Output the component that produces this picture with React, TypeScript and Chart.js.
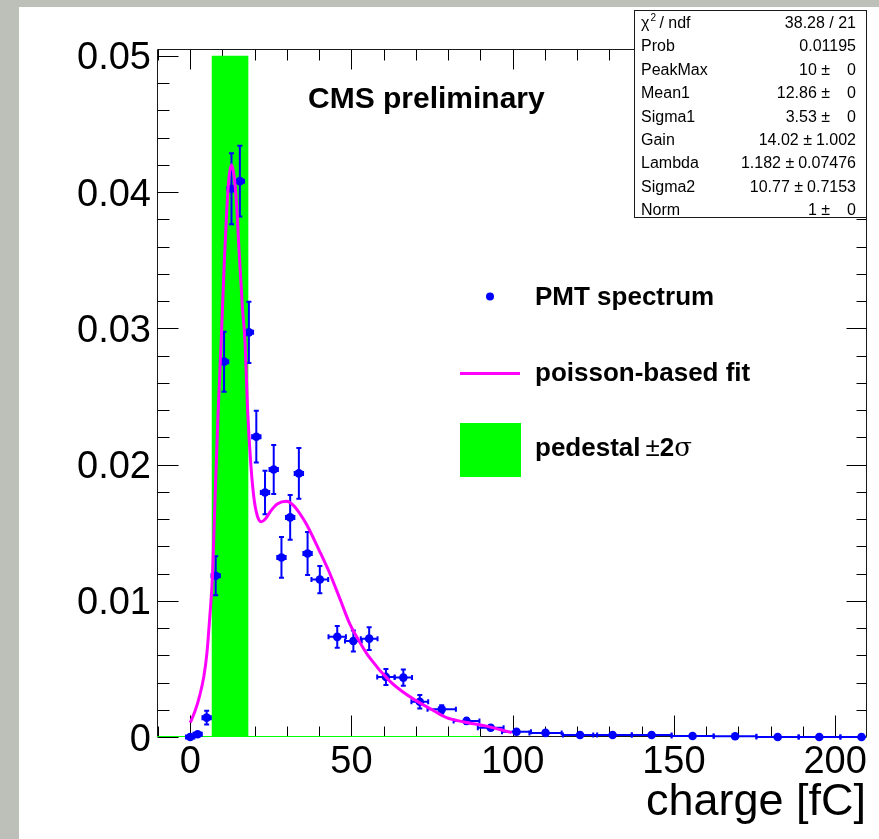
import React, { useEffect, useRef } from "react";
import { Chart, registerables } from "chart.js";

Chart.register(...registerables);

// ---------- data ----------
const chargeX = [0, 2.3, 5.1, 7.9, 10.5, 12.8, 15.4, 18.2, 20.5, 23.2, 25.9, 28.3, 31.0, 33.7, 36.4, 40.2, 45.6, 50.6, 55.5, 60.7, 66.1, 71.2, 78.0, 85.7, 93.2, 101.2, 110.2, 120.9, 131.0, 143.1, 155.8, 169.0, 182.2, 195.1, 208.2];
const spectrumY = [0, 0.0002, 0.00142, 0.01183, 0.02755, 0.04024, 0.0408, 0.0297, 0.02204, 0.01795, 0.01964, 0.01318, 0.01612, 0.01935, 0.01347, 0.01156, 0.00735, 0.00705, 0.00722, 0.00441, 0.00436, 0.00259, 0.00203, 0.00118, 0.00068, 0.00039, 0.0003, 0.00015, 0.00015, 0.00015, 0.00007, 0.00005, 0, 0, 0];
const spectrumYErr = [0, 0.0001, 0.0005, 0.00143, 0.0022, 0.0026, 0.0026, 0.00224, 0.0019, 0.0016, 0.0018, 0.0015, 0.00165, 0.00187, 0.00157, 0.001, 0.0008, 0.00077, 0.00083, 0.00059, 0.00059, 0.00049, 0.0003, 0.00022, 0.00017, 0.00012, 0.0001, 0.00007, 0.00007, 0.00007, 0.00005, 0.00004, 0, 0, 0];
const chargeXErr = [1.3, 1.3, 1.3, 1.3, 1.3, 1.3, 1.3, 1.3, 1.3, 1.3, 1.3, 1.3, 1.3, 1.3, 1.3, 2.6, 2.7, 2.6, 2.6, 2.7, 2.7, 2.6, 4.4, 4.0, 4.0, 4.5, 5.0, 5.3, 6.0, 6.2, 6.5, 6.6, 6.6, 6.5, 6.5];

const fitX = [0, 1.5, 3, 4.2, 5.2, 6.0, 6.9, 7.7, 8.6, 9.7, 10.6, 11.3, 12.0, 12.8, 13.6, 14.4, 15.2, 16.2, 17.0, 17.8, 18.8, 19.9, 21.0, 22.1, 23.3, 25.0, 27.0, 29.9, 32.0, 34.0, 36.1, 40.0, 43.3, 46.5, 49.5, 52.5, 55.7, 61.9, 66.0, 70.2, 75.0, 79.5, 85.0, 91.9, 96.0, 99.7];
const fitY = [0.00105, 0.0019, 0.0031, 0.0044, 0.0062, 0.0086, 0.0118, 0.0175, 0.0235, 0.0296, 0.035, 0.0385, 0.041, 0.042, 0.0412, 0.039, 0.0355, 0.0315, 0.029, 0.024, 0.02, 0.0173, 0.0161, 0.0158, 0.016, 0.0166, 0.0171, 0.0173, 0.017, 0.0164, 0.0156, 0.0137, 0.012, 0.0101, 0.0083, 0.007, 0.0058, 0.0041, 0.0033, 0.00265, 0.002, 0.00142, 0.0011, 0.0008, 0.00055, 0.00032];

const pedestalBand = [6.6, 18.1];
const pedestalTop = 0.05;
const pedestalLineRange = [-10.3, 90];

const xMajorTicks = [0, 50, 100, 150, 200];
const xTickLabels = ["0", "50", "100", "150", "200"];
const yMajorTicks = [0, 0.01, 0.02, 0.03, 0.04, 0.05];
const yTickLabels = ["0", "0.01", "0.02", "0.03", "0.04", "0.05"];

const statsLabels = ["χ2 / ndf", "Prob", "PeakMax", "Mean1", "Sigma1", "Gain", "Lambda", "Sigma2", "Norm"];
const statsValues = ["38.28 / 21", "0.01195", "10", "12.86", "3.53", "14.02", "1.182", "10.77", "1"];
const statsErrors = ["", "", "0", "0", "0", "1.002", "0.07476", "0.7153", "0"];

const legendLabels = ["PMT spectrum", "poisson-based fit", "pedestal"];

const X_MIN = -10.3;
const X_MAX = 209.9;
const Y_MIN = 0;
const Y_MAX = 0.0505;

const FONT = "'Liberation Sans', Arial, Helvetica, sans-serif";
const BLUE = "#0000ff";
const MAGENTA = "#ff00ff";
const GREEN = "#00ff00";

const POINTS_INDEX = 1;

const rootPlugin = {
  id: "rootStyle",
  beforeDraw(chart: any) {
    const { ctx, width, height } = chart;
    ctx.save();
    ctx.fillStyle = "#bdbfb9";
    ctx.fillRect(0, 0, width, height);
    ctx.fillStyle = "#ffffff";
    ctx.fillRect(19, 7, width - 19, height - 7);
    ctx.restore();
  },
  beforeDatasetsDraw(chart: any) {
    const { ctx, chartArea: a, scales } = chart;
    const x = scales.x;
    const y = scales.y;
    ctx.save();
    ctx.strokeStyle = "#1a1a1a";
    ctx.lineWidth = 1;
    const L = Math.round(a.left) + 0.5;
    const R = Math.round(a.right) - 0.5;
    const T = Math.round(a.top) + 0.5;
    const B = Math.round(a.bottom) - 0.5;
    ctx.beginPath();
    ctx.moveTo(L, T); ctx.lineTo(R, T); ctx.lineTo(R, B); ctx.lineTo(L, B); ctx.closePath();
    ctx.stroke();
    ctx.strokeStyle = "#000";
    // x ticks
    for (let k = -1; k <= 21; k++) {
      const v = k * 10;
      const px = Math.round(x.getPixelForValue(v)) + 0.5;
      if (px < a.left || px > a.right) continue;
      const major = xMajorTicks.includes(v);
      const lb = major ? 21 : 10;
      const lt = major ? 20 : 11;
      ctx.beginPath();
      ctx.moveTo(px, B); ctx.lineTo(px, B - lb);
      ctx.moveTo(px, T); ctx.lineTo(px, T + lt);
      ctx.stroke();
    }
    // y ticks
    for (let k = 0; k <= 25; k++) {
      const v = k * 0.002;
      const py = Math.round(y.getPixelForValue(v)) + 0.5;
      const major = k % 5 === 0;
      const len = major ? 21 : 12;
      ctx.beginPath();
      ctx.moveTo(L, py); ctx.lineTo(L + len, py);
      ctx.moveTo(R, py); ctx.lineTo(R - (major ? 20 : 10), py);
      ctx.stroke();
    }
    // labels
    ctx.fillStyle = "#000";
    ctx.font = `38px ${FONT}`;
    ctx.textAlign = "center";
    ctx.textBaseline = "alphabetic";
    xMajorTicks.forEach((v, i) => {
      ctx.fillText(xTickLabels[i], x.getPixelForValue(v), 773);
    });
    ctx.textAlign = "right";
    yMajorTicks.forEach((v, i) => {
      ctx.fillText(yTickLabels[i], 151, y.getPixelForValue(v) + 13.5);
    });
    ctx.font = `45px ${FONT}`;
    ctx.fillText("charge [fC]", 866, 815);
    ctx.restore();
  },
  beforeDatasetDraw(chart: any, args: any) {
    if (args.index !== POINTS_INDEX) return;
    const { ctx, scales, chartArea: a, height } = chart;
    const x = scales.x;
    const y = scales.y;
    ctx.save();
    ctx.beginPath();
    ctx.rect(a.left, 0, a.right - a.left - 1, height);
    ctx.clip();
    ctx.strokeStyle = BLUE;
    ctx.lineWidth = 2;
    for (let i = 0; i < chargeX.length; i++) {
      const px = x.getPixelForValue(chargeX[i]);
      const py = y.getPixelForValue(spectrumY[i]);
      const ye = spectrumYErr[i];
      if (ye > 0) {
        const y1 = y.getPixelForValue(spectrumY[i] + ye);
        const y2 = y.getPixelForValue(Math.max(0, spectrumY[i] - ye));
        ctx.beginPath();
        ctx.moveTo(px, y1); ctx.lineTo(px, y2);
        ctx.moveTo(px - 2.5, y1); ctx.lineTo(px + 2.5, y1);
        ctx.moveTo(px - 2.5, y2); ctx.lineTo(px + 2.5, y2);
        ctx.stroke();
      }
      const xe = chargeXErr[i];
      if (xe > 0) {
        const x1 = x.getPixelForValue(chargeX[i] - xe);
        const x2 = x.getPixelForValue(chargeX[i] + xe);
        ctx.beginPath();
        ctx.moveTo(x1, py); ctx.lineTo(x2, py);
        ctx.moveTo(x1, py - 2.5); ctx.lineTo(x1, py + 2.5);
        ctx.moveTo(x2, py - 2.5); ctx.lineTo(x2, py + 2.5);
        ctx.stroke();
      }
    }
    ctx.restore();
  },
  afterDraw(chart: any) {
    const { ctx } = chart;
    ctx.save();
    // CMS preliminary
    ctx.fillStyle = "#000";
    ctx.textAlign = "left";
    ctx.textBaseline = "alphabetic";
    ctx.font = `bold 30px ${FONT}`;
    ctx.fillText("CMS preliminary", 308, 108);

    // legend
    ctx.fillStyle = BLUE;
    ctx.beginPath();
    ctx.arc(490, 296.5, 4, 0, Math.PI * 2);
    ctx.fill();
    ctx.strokeStyle = MAGENTA;
    ctx.lineWidth = 3;
    ctx.beginPath();
    ctx.moveTo(460, 373.5); ctx.lineTo(520, 373.5);
    ctx.stroke();
    ctx.fillStyle = GREEN;
    ctx.fillRect(460, 423, 61, 54);
    ctx.fillStyle = "#000";
    ctx.font = `bold 26px ${FONT}`;
    ctx.fillText(legendLabels[0], 535, 305);
    ctx.fillText(legendLabels[1], 535, 381);
    ctx.fillText(legendLabels[2], 535, 456);
    let cx = 535 + ctx.measureText(legendLabels[2]).width + 5;
    ctx.font = `26px ${FONT}`;
    ctx.fillText("±", cx, 456);
    cx += ctx.measureText("±").width;
    ctx.font = `bold 26px ${FONT}`;
    ctx.fillText("2", cx, 456);
    cx += ctx.measureText("2").width;
    ctx.font = `26px 'DejaVu Serif', serif`;
    ctx.fillText("σ", cx, 456);

    // stats box
    const bx = 634, by = 10, bw = 233, bh = 208;
    ctx.fillStyle = "#fff";
    ctx.fillRect(bx, by, bw, bh);
    ctx.strokeStyle = "#1a1a1a";
    ctx.lineWidth = 1;
    ctx.strokeRect(bx + 0.5, by + 0.5, bw - 1, bh - 1);
    ctx.fillStyle = "#000";
    const fs = 16;
    for (let i = 0; i < statsLabels.length; i++) {
      const base = 22 + i * 23.4 + 6;
      ctx.textAlign = "left";
      ctx.font = `${fs}px ${FONT}`;
      if (i === 0) {
        ctx.fillText("χ", 641, base);
        const w = ctx.measureText("χ").width;
        ctx.font = `10px ${FONT}`;
        ctx.fillText("2", 641 + w + 1, base - 7);
        ctx.font = `${fs}px ${FONT}`;
        ctx.fillText("/ ndf", 641 + w + 10, base);
      } else {
        ctx.fillText(statsLabels[i], 641, base);
      }
      ctx.textAlign = "right";
      const err = statsErrors[i];
      if (err === "") {
        ctx.fillText(statsValues[i], 856, base);
      } else {
        ctx.fillText(err, 856, base);
        const ew = Math.max(ctx.measureText(err).width, 22);
        ctx.fillText(statsValues[i] + " ±", 856 - ew - 4, base);
      }
    }
    ctx.restore();
  },
};

export default function App() {
  const ref = useRef<HTMLCanvasElement>(null);
  useEffect(() => {
    document.body.style.margin = "0";
    const canvas = ref.current;
    if (!canvas) return;
    const chart = new Chart(canvas, {
      type: "scatter",
      data: {
        datasets: [
          {
            type: "line",
            label: "poisson-based fit",
            data: fitX.map((v, i) => ({ x: v, y: fitY[i] })),
            borderColor: MAGENTA,
            borderWidth: 3,
            pointRadius: 0,
            showLine: true,
            fill: false,
            cubicInterpolationMode: "monotone",
          },
          {
            type: "scatter",
            label: "PMT spectrum",
            data: chargeX.map((v, i) => ({ x: v, y: spectrumY[i] })),
            backgroundColor: BLUE,
            borderColor: BLUE,
            pointRadius: 4.3,
            pointBorderWidth: 0,
            clip: false,
          },
          {
            type: "line",
            label: "pedestal baseline",
            data: pedestalLineRange.map((v) => ({ x: v, y: 0 })),
            borderColor: GREEN,
            borderWidth: 2,
            pointRadius: 0,
            showLine: true,
            fill: false,
          },
          {
            type: "line",
            label: "pedestal ±2σ",
            data: pedestalBand.map((v) => ({ x: v, y: pedestalTop })),
            borderColor: GREEN,
            borderWidth: 0,
            backgroundColor: GREEN,
            pointRadius: 0,
            showLine: true,
            fill: "origin",
          },
        ],
      } as any,
      options: {
        responsive: false,
        animation: false,
        devicePixelRatio: 1,
        events: [],
        layout: { padding: { left: 157, top: 49, right: 12, bottom: 102 } },
        scales: {
          x: { type: "linear", min: X_MIN, max: X_MAX, display: false },
          y: { type: "linear", min: Y_MIN, max: Y_MAX, display: false },
        },
        plugins: { legend: { display: false }, tooltip: { enabled: false } },
      } as any,
      plugins: [rootPlugin],
    });
    return () => chart.destroy();
  }, []);
  return <canvas ref={ref} width={879} height={839} style={{ display: "block" }} />;
}
